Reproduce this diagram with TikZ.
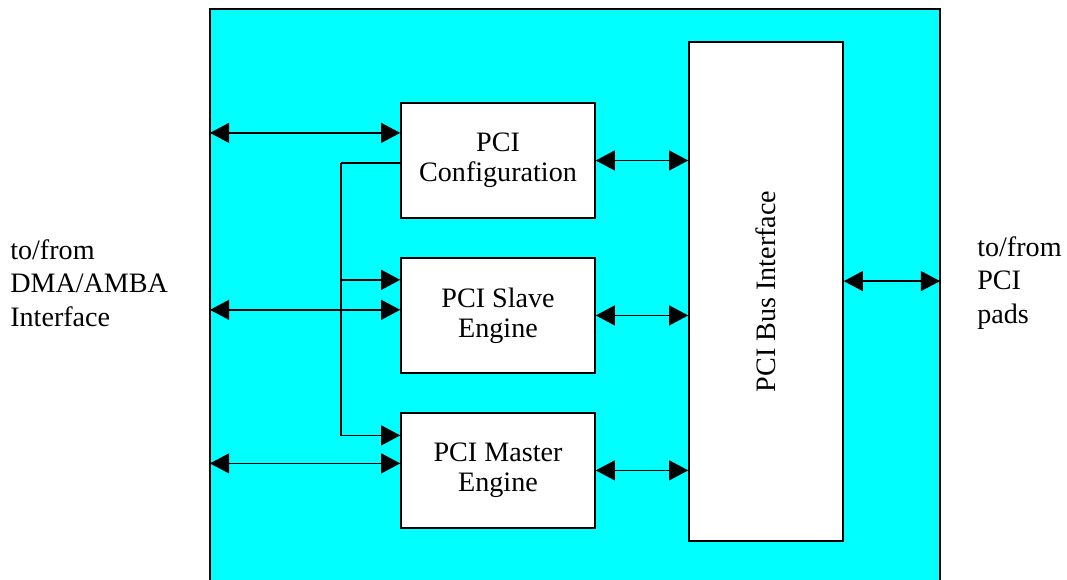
\documentclass[tikz,border=0pt]{standalone}
\usepackage{fontspec}
\setmainfont{Liberation Serif}
\usetikzlibrary{arrows.meta, positioning, calc}
\definecolor{chipcyan}{RGB}{0,255,255}

\begin{document}
\begin{tikzpicture}[
        node distance=0.96cm,
        blk/.style={rectangle, draw=black, fill=white, line width=1.1pt, minimum width=4.85cm, minimum height=2.875cm, align=center, font=\fontsize{20}{21.5}\selectfont},
        lbl/.style={align=left, inner sep=0pt, font=\fontsize{20}{24}\selectfont},
        link/.style={line width=1.2pt, -{Triangle[length=0.48cm, width=0.5cm]}},
        dlink/.style={line width=1.2pt, {Triangle[length=0.48cm, width=0.5cm]}-{Triangle[length=0.48cm, width=0.5cm]}}
    ]
        \useasboundingbox (0,0) rectangle (26.675,14.5);
        \node[fill=chipcyan, minimum width=18.25cm, minimum height=15.275cm, inner sep=0pt, outer sep=0pt] (chip) at (14.375,6.6375) {};
        \draw[line width=1.1pt] (chip.south west) -- (chip.north west) -- (chip.north east) -- (chip.south east);

        \node[blk] (cfg) at (12.45,10.4875) {PCI\\Configuration};
        \node[blk, below=of cfg] (slave) {PCI Slave\\Engine};
        \node[blk, below=of slave] (master) {PCI Master\\Engine};
        \node[blk, minimum width=3.85cm, minimum height=12.475cm] (bus) at (19.15,7.2125) {};
        \node[rotate=90, font=\fontsize{20}{24}\selectfont] (buslbl) at (bus) {PCI Bus Interface};

        \node[lbl, anchor=west] (dmatxt) at (0.25,7.425) {to/from\\DMA/AMBA\\Interface};
        \node[lbl, anchor=west] (padtxt) at (24.425,7.425) {to/from\\PCI\\pads};

        \coordinate (cfgin) at ($(cfg.west)+(0,0.69)$);
        \coordinate (slavedata) at ($(slave.west)+(0,0.14)$);
        \coordinate (masterdata) at ($(master.west)+(0,0.175)$);
        \draw[dlink] (chip.west |- cfgin) -- (cfgin);
        \draw[dlink] (chip.west |- slavedata) -- (slavedata);
        \draw[dlink] (chip.west |- masterdata) -- (masterdata);

        \coordinate (tap) at ($(cfg.west)+(-1.475,-0.06)$);
        \coordinate (slavein) at ($(slave.west)+(0,0.89)$);
        \coordinate (masterin) at ($(master.west)+(0,0.875)$);
        \draw[line width=1.2pt] (cfg.west |- tap) -- (tap);
        \draw[link] (tap) |- (masterin);
        \draw[link] (tap |- slavein) -- (slavein);

        \draw[dlink] (cfg.east) -- (cfg.east -| bus.west);
        \draw[dlink] (slave.east) -- (slave.east -| bus.west);
        \draw[dlink] (master.east) -- (master.east -| bus.west);

        \coordinate (busout) at ($(bus.east)+(0,0.26)$);
        \draw[dlink] (busout) -- (busout -| chip.east);
    \end{tikzpicture}
\end{document}
